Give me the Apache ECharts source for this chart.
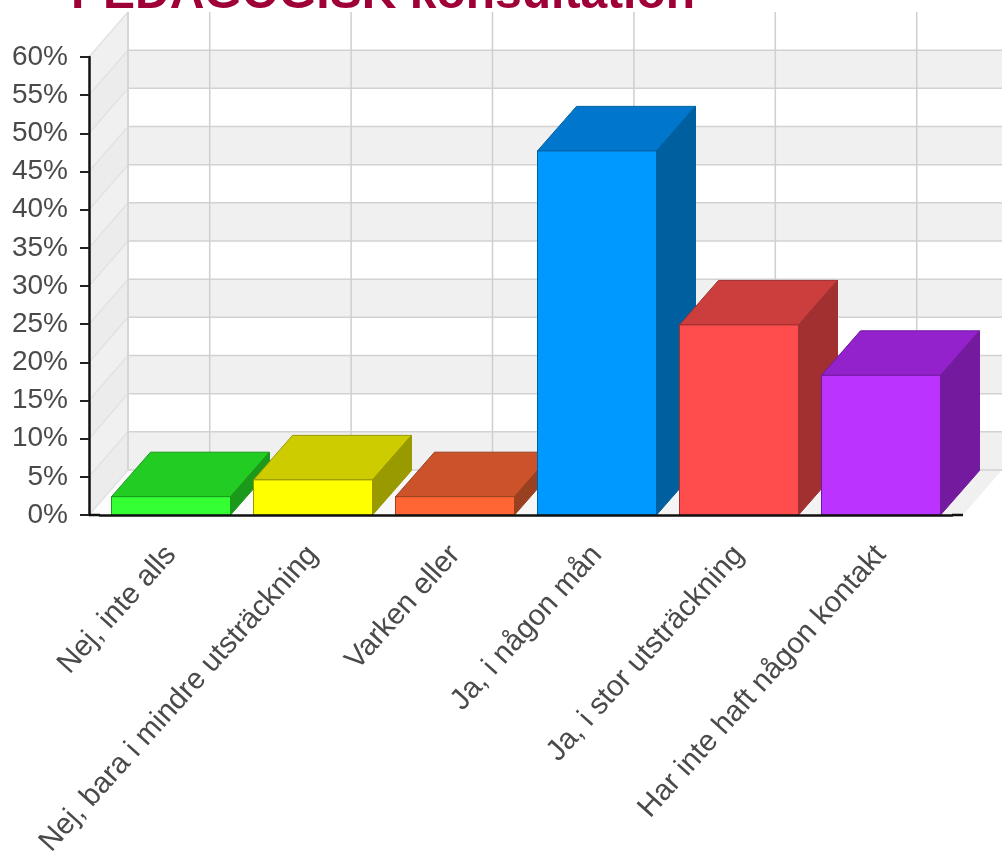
<!DOCTYPE html>
<html><head><meta charset="utf-8">
<style>html,body{margin:0;padding:0;background:#fff}#c{width:1002px;height:856px}</style>
<script src="https://cdn.jsdelivr.net/npm/echarts@6/dist/echarts.min.js"></script>
</head><body><div id="c"></div>
<script>
const titleText = 'PEDAGOGISK konsultation';
const categories = ['Nej, inte alls','Nej, bara i mindre utsträckning','Varken eller','Ja, i någon mån','Ja, i stor utsträckning','Har inte haft någon kontakt'];
const values = [2.4,4.6,2.4,47.7,24.9,18.3];
const yTicks = [0,5,10,15,20,25,30,35,40,45,50,55,60];
const frontColors = ['#33ff33','#ffff00','#ff6633','#0099ff','#ff4d4d','#bb33ff'];
const topColors = ['#22cc22','#cccc00','#cc5229','#0077cc','#cc3d3d','#9322cc'];
const sideColors = ['#1a991a','#999900','#994020','#005f9f','#a33030','#731a9e'];
const DX = 39, DY = 45, BAR_DY = 44.5, BAR = 119, EXT = 11, BACK_SCALE = 0.9958;

const chart = echarts.init(document.getElementById('c'), null, {renderer:'canvas'});
const poly = (pts, fill, stroke, z2) => ({type:'polygon', shape:{points:pts}, style:{fill, stroke:stroke||null, lineWidth:stroke?1:0}, z2:z2||0});
const line = (a,b,c,w,z2) => ({type:'line', shape:{x1:a[0],y1:a[1],x2:b[0],y2:b[1]}, style:{stroke:c,lineWidth:w||1.5}, z2:z2||0});

chart.setOption({
  animation:false,
  title:{text:titleText,left:66,top:-34,textStyle:{fontFamily:'Liberation Sans',fontWeight:'bold',fontSize:48,color:'#a00038'}},
  grid:{left:100,right:50,top:57,bottom:341,containLabel:false,outerBoundsMode:'none'},
  xAxis:{type:'category',data:categories,z:5,
    axisLine:{lineStyle:{color:'#111',width:2.5}},
    axisTick:{alignWithLabel:true,length:8,lineStyle:{color:'#222',width:2}},
    axisLabel:{rotate:48,interval:0,margin:35,fontFamily:'Liberation Sans',fontSize:29.5,color:'#4a4a4a'}},
  yAxis:{type:'value',min:0,max:60,interval:5,offset:EXT,z:5,splitLine:{show:false},
    axisLine:{show:true,lineStyle:{color:'#111',width:2.5}},
    axisTick:{show:true,length:9,lineStyle:{color:'#222',width:2}},
    axisLabel:{formatter:'{value}%',margin:21,fontFamily:'Liberation Sans',fontSize:28,color:'#4a4a4a'}},
  series:[
    {type:'custom',z:1,silent:true,data:yTicks.map(v=>[0,v]),
     renderItem(p,api){
       const v=api.value(1), i=p.dataIndex;
       const cs=p.coordSys, L=cs.x-EXT, R=cs.x+cs.width+EXT;
       const y=api.coord([0,v])[1], ch=[];
       if(i<yTicks.length-1){
         const y2=api.coord([0,yTicks[i+1]])[1];
         ch.push(poly([[L,y],[L+DX,y-DY],[L+DX,y2-DY],[L,y2]],i%2===0?'#ececec':'#f0f0f0'));
         ch.push(poly([[L+DX,y-DY],[R+DX,y-DY],[R+DX,y2-DY],[L+DX,y2-DY]],i%2===0?'#f0f0f0':'#ffffff'));
       }
       if(i===0) ch.push(poly([[L,y],[R,y],[R+DX,y-DY],[L+DX,y-DY]],{type:'linear',x:1,y:0,x2:0,y2:1,colorStops:[{offset:0,color:'#f0f0f0'},{offset:1,color:'#fdfdfd'}]}));
       ch.push(line([L,y],[L+DX,y-DY],'#e2e2e2',1.5,2));
       if(v<60) ch.push(line([L+DX,y-DY],[R+DX,y-DY],'#d2d2d2',1.5,2));
       return {type:'group',children:ch};
     }},
    {type:'custom',z:1,silent:true,data:categories.map((c,i)=>[i]),
     renderItem(p,api){
       const cs=p.coordSys;
       const x=cs.x+(api.coord([api.value(0),0])[0]-cs.x)*BACK_SCALE;
       const y0=api.coord([0,0])[1], y1=api.coord([0,60])[1];
       const ch=[line([x+DX,y0-DY],[x+DX,y1-DY],'#cfcfcf',1.5,3)];
       if(p.dataIndex===0){ ch.push(line([cs.x-EXT+DX,y0-DY],[cs.x-EXT+DX,y1-DY],'#d6d6d6',2,3)); }
       return {type:'group',children:ch};
     }},
    {type:'custom',z:2,silent:true,data:categories.map((c,i)=>[i,values[i]]),
     renderItem(p,api){
       const i=p.dataIndex, c=api.coord([i,api.value(1)]), b=api.coord([i,0])[1];
       const l=c[0]-BAR/2, r=l+BAR, t=c[1];
       return {type:'group',children:[
         poly([[l,t],[r,t],[r+DX,t-BAR_DY],[l+DX,t-BAR_DY]],topColors[i],sideColors[i],i*2),
         poly([[r,t],[r+DX,t-BAR_DY],[r+DX,b-BAR_DY],[r,b]],sideColors[i],sideColors[i],i*2),
         poly([[l,t],[r,t],[r,b],[l,b]],frontColors[i],sideColors[i],i*2+1)
       ]};
     }},
    {type:'custom',z:6,silent:true,data:[[0,0]],
     renderItem(p,api){
       const cs=p.coordSys, y=api.coord([0,0])[1];
       return {type:'group',children:[
         line([cs.x-EXT,y],[cs.x,y],'#111',2.5),
         line([cs.x+cs.width,y],[cs.x+cs.width+EXT,y],'#111',2.5)
       ]};
     }}
  ]
});
</script></body></html>
